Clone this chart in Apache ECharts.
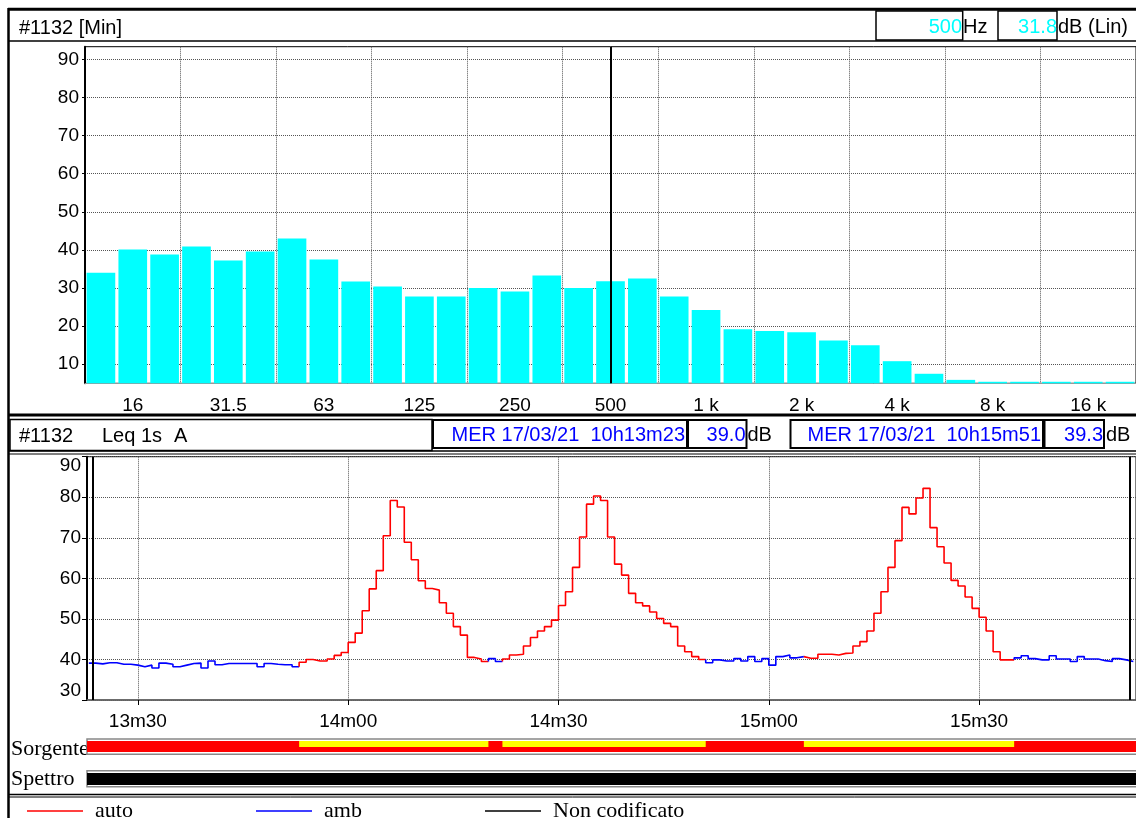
<!DOCTYPE html>
<html><head><meta charset="utf-8">
<script src="https://cdn.jsdelivr.net/npm/echarts@6/dist/echarts.min.js"></script>
<style>html,body{margin:0;padding:0;background:#fff}#c{width:1136px;height:818px}</style>
</head><body><div id="c"></div><script>
// ---------- DATA ----------
const bandLabels = ['12.5','16','20','25','31.5','40','50','63','80','100','125','160','200','250','315','400','500','630','800','1 k','1.25 k','1.6 k','2 k','2.5 k','3.15 k','4 k','5 k','6.3 k','8 k','10 k','12.5 k','16 k','20 k'];
const spectrumLevels = [34.0,40.1,38.8,40.9,37.2,39.6,43.0,37.5,31.7,30.4,27.8,27.8,30.0,29.1,33.3,30.0,31.8,32.5,27.8,24.2,19.2,18.7,18.4,16.2,15.0,10.8,7.5,5.9,5.4,5.4,5.4,5.4,5.4];
const levelTicks = [10,20,30,40,50,60,70,80,90];
const cursorBand = '500';
const cursorBandText = '500';
const cursorLevelText = '31.8';

const startSecond = 23; // 10h13m23 (seconds after 10h13m00)
const leqLevels = [
  39.1,38.9,39.2,39.2,38.8,38.8,38.6,38.2,38.6,37.9,
  39.1,38.8,38.2,38.6,39.0,39.1,37.9,39.6,38.7,39.0,
  39.0,39.0,39.0,39.0,38.2,39.0,38.8,38.7,38.7,38.2,
  39.3,40.0,39.6,39.6,40.1,41.0,41.7,44.2,46.5,52.0,57.4,
  61.9,70.5,79.2,77.6,68.9,64.6,59.4,
  57.5,57.1,54.0,51.4,48.1,46.0,40.5,40.1,39.5,
  40.2,39.5,
  40.1,41.1,41.3,43.3,45.4,47.0,48.1,49.7,53.3,56.7,
  62.7,70.2,78.3,80.3,79.2,70.2,63.5,60.8,
  56.3,54.0,53.2,51.7,50.1,48.9,48.1,43.3,41.9,40.7,40.0,
  39.2,39.9,39.6,39.6,40.2,39.6,40.7,39.5,40.2,38.6,40.7,41.1,40.4,40.7,
  40.3,40.3,41.3,41.3,41.1,41.5,41.6,43.3,44.4,47.0,51.4,56.7,
  62.7,69.3,77.5,75.9,79.8,82.2,72.5,67.8,63.8,
  59.5,58.1,55.4,52.6,50.4,47.0,41.9,39.9,39.9,
  40.4,40.9,40.2,39.9,39.9,40.9,40.1,40.1,39.5,40.7,40.1,40.1,39.7,39.5,40.2,39.9,39.5
];
const autoSegments = [[53,80],[82,111],[125,155]];
const timeTickSeconds = [30,60,90,120,150];
const timeTickLabels = ['13m30','14m00','14m30','15m00','15m30'];
const cursorSeconds = [23.5,171.5];
const cursorTexts = ['MER 17/03/21  10h13m23','MER 17/03/21  10h15m51'];
const cursorLevels = ['39.0','39.3'];
const legendNames = ['auto','amb','Non codificato'];

// ---------- BUILD ----------
const xMin = 22.74, xMax = 172.38;
const isAuto = s => autoSegments.some(([a,b]) => s >= a && s < b);
// split the 1-s levels into runs of the same source; each run becomes one step line
function buildRuns(){
  const runs = [];
  let cur = null;
  for (let i = 0; i < leqLevels.length; i++){
    const s = startSecond + i, a = isAuto(s);
    if (!cur || cur.auto !== a){
      cur = {auto:a, data:[]};
      if (i > 0) cur.data.push([s, leqLevels[i-1]]);
      runs.push(cur);
    }
    cur.data.push([s, leqLevels[i]]);
    if (i === leqLevels.length-1 || isAuto(s+1) !== a) cur.data.push([s+1, leqLevels[i]]);
  }
  return runs;
}
const runs = buildRuns();
const sourceBars = [[xMin, xMax, 0]].concat(autoSegments.map(([a,b]) => [a,b,1]));
const spectroBars = [[xMin, xMax]];

const SANS = 'Liberation Sans', SERIF = 'Liberation Serif';
const gridLine = {show:true, lineStyle:{type:[1,1], color:'#555', width:1}};
const cursorMark = (w) => ({symbol:'none', silent:true, label:{show:false}, animation:false,
  lineStyle:{color:'#000', width:w, type:'solid'}, data: cursorSeconds.map(s => ({xAxis:s}))});

function T(x,y,text,opt){ return {type:'text', x, y, z:10, style:Object.assign({text, font:'20px "'+SANS+'"', fill:'#000', verticalAlign:'middle', align:'left'}, opt||{})}; }
function L(x1,y1,x2,y2,w,c){ return {type:'line', z:10, shape:{x1,y1,x2,y2}, style:{stroke:c||'#000', lineWidth:w}}; }
function R(x,y,w,h,lw,c,fill,z){ return {type:'rect', z: z==null?10:z, shape:{x,y,width:w,height:h}, style:{stroke:c||'#000', lineWidth:lw, fill:fill||'none'}}; }

const elements = [
  L(8,9.3,1136,9.3,3), L(8.5,8,8.5,818,2.5), L(9,41,1136,41,1.5),
  T(19,28,'#1132 [Min]'),
  R(876,11,86.7,29,1.5), R(998,11,59,29,1.5),
  T(962,27,cursorBandText,{fill:'#00ffff', align:'right'}), T(963,27,'Hz'),
  T(1057,27,cursorLevelText,{fill:'#00ffff', align:'right'}), T(1058,27,'dB (Lin)'),
  L(8,415,1136,415,3),
  R(10,419.5,422,31,1.5),
  T(19,436,'#1132'), T(102,436,'Leq 1s'), T(174,436,'A'),
  R(433,420,254,28,2), R(688,420,58.5,28,2), R(790.5,420,252.5,28,2), R(1044.5,420,59.5,28,2),
  T(685,435,cursorTexts[0],{fill:'#0000ff', align:'right'}), T(745.5,435,cursorLevels[0],{fill:'#0000ff', align:'right'}), T(747.5,435,'dB'),
  T(1041,435,cursorTexts[1],{fill:'#0000ff', align:'right'}), T(1103,435,cursorLevels[1],{fill:'#0000ff', align:'right'}), T(1106,435,'dB'),
  L(9,451,1136,451,1.5), L(9,454,1136,454,1),
  Object.assign(T(11,749,'Sorgente',{font:'22px "'+SERIF+'"'}),{z:0}),
  R(87,739,1055,15.3,1.5,'#888','#fff',1),
  Object.assign(T(11,779,'Spettro',{font:'22px "'+SERIF+'"'}),{z:0}),
  R(87,770.7,1055,16,1.5,'#888','#fff',1),
  L(9,794.5,1136,794.5,1.5), L(9,797,1136,797,1)
];

const labelFont = {fontFamily:SANS, fontSize:19, color:'#000'};
const lineSeries = runs.map((r, k) => ({
  type:'line', name: r.auto ? 'auto' : 'amb', xAxisIndex:1, yAxisIndex:1, step:'end', data:r.data,
  color: r.auto ? '#ff0000' : '#0000ff', symbol:'none',
  lineStyle:{width:1.6, color: r.auto ? '#ff0000' : '#0000ff'},
  markLine: k === 0 ? cursorMark(2) : undefined
}));

const option = {
  animation:false,
  textStyle:{fontFamily:SANS},
  grid:[
    {left:85, top:46.7, right:-3, height:336.6, show:true, borderColor:'#000', borderWidth:1},
    {left:87, top:456.7, right:0, height:243.3, show:true, borderColor:'#000', borderWidth:1},
    {left:87, top:741, right:0, height:11},
    {left:87, top:773, right:0, height:12}
  ],
  xAxis:[
    {gridIndex:0, type:'category', data:bandLabels, boundaryGap:true,
     axisLine:{lineStyle:{color:'#999', width:1}},
     axisTick:{alignWithLabel:true, interval:(i)=>i%3===1, length:6, lineStyle:{color:'#000', width:1}},
     axisLabel:Object.assign({interval:(i)=>i%3===1, margin:13}, labelFont),
     splitLine:{show:true, interval:(i)=>i%3===0 && i>0, lineStyle:{type:[1,1], color:'#555', width:1}}},
    {gridIndex:1, type:'value', min:xMin, max:xMax,
     axisLine:{lineStyle:{color:'#666', width:1.5}},
     axisTick:{customValues:timeTickSeconds, length:5, lineStyle:{color:'#000', width:1}},
     axisLabel:Object.assign({customValues:timeTickSeconds, margin:12, formatter:(v)=>timeTickLabels[timeTickSeconds.indexOf(v)] || ''}, labelFont),
     splitLine:gridLine},
    {gridIndex:2, type:'value', min:xMin, max:xMax, show:false},
    {gridIndex:3, type:'value', min:xMin, max:xMax, show:false}
  ],
  yAxis:[
    {gridIndex:0, type:'value', min:5, max:93.3,
     axisLine:{show:true, lineStyle:{color:'#000', width:2}},
     axisTick:{show:true, customValues:levelTicks, length:3, lineStyle:{color:'#000', width:1}},
     axisLabel:Object.assign({customValues:levelTicks, margin:6}, labelFont),
     splitLine:gridLine},
    {gridIndex:1, type:'value', min:30, max:90, interval:10,
     axisLine:{show:true, lineStyle:{color:'#000', width:2}},
     axisTick:{show:true, length:5, lineStyle:{color:'#000', width:1}},
     axisLabel:Object.assign({margin:6, verticalAlignMinLabel:'bottom', verticalAlignMaxLabel:'top'}, labelFont),
     splitLine:gridLine},
    {gridIndex:2, type:'value', min:0, max:1, show:false},
    {gridIndex:3, type:'value', min:0, max:1, show:false}
  ],
  legend: legendNames.map((n,i)=>({data:[n], left:[22,251,480][i], top:795, icon:'rect', itemWidth:56, itemHeight:1.5,
    selectedMode:false, textStyle:{fontFamily:SERIF, fontSize:22, color:'#000', padding:[0,0,0,7]}})),
  graphic:{elements},
  series:[
    {type:'bar', name:'spectrum', xAxisIndex:0, yAxisIndex:0, data:spectrumLevels, barCategoryGap:'10%',
     itemStyle:{color:'#00ffff'}, clip:true,
     markLine:{symbol:'none', silent:true, label:{show:false}, lineStyle:{color:'#000', width:2, type:'solid'}, data:[{xAxis:cursorBand}]}}
  ].concat(lineSeries).concat([
    {type:'line', name:'Non codificato', xAxisIndex:1, yAxisIndex:1, data:[], color:'#000000', symbol:'none'},
    {type:'custom', name:'sorgente', xAxisIndex:2, yAxisIndex:2, data:sourceBars, encode:{x:[0,1]}, z:5,
     renderItem:(params, api)=>{
       const kind = api.value(2);
       const p0 = api.coord([api.value(0), 1]);
       const p1 = api.coord([api.value(1), kind ? 0.45 : 0]);
       return {type:'rect', shape:{x:p0[0], y:p0[1], width:p1[0]-p0[0], height:p1[1]-p0[1]}, style:{fill: kind ? '#ffff00' : '#ff0000'}};
     },
     markLine:cursorMark(1.5)},
    {type:'custom', name:'spettro', xAxisIndex:3, yAxisIndex:3, data:spectroBars, encode:{x:[0,1]}, z:5,
     renderItem:(params, api)=>{
       const p0 = api.coord([api.value(0), 1]);
       const p1 = api.coord([api.value(1), 0]);
       return {type:'rect', shape:{x:p0[0], y:p0[1], width:p1[0]-p0[0], height:p1[1]-p0[1]}, style:{fill:'#000'}};
     }}
  ])
};
const chart = echarts.init(document.getElementById('c'), null, {renderer:'canvas'});
chart.setOption(option);
</script></body></html>
